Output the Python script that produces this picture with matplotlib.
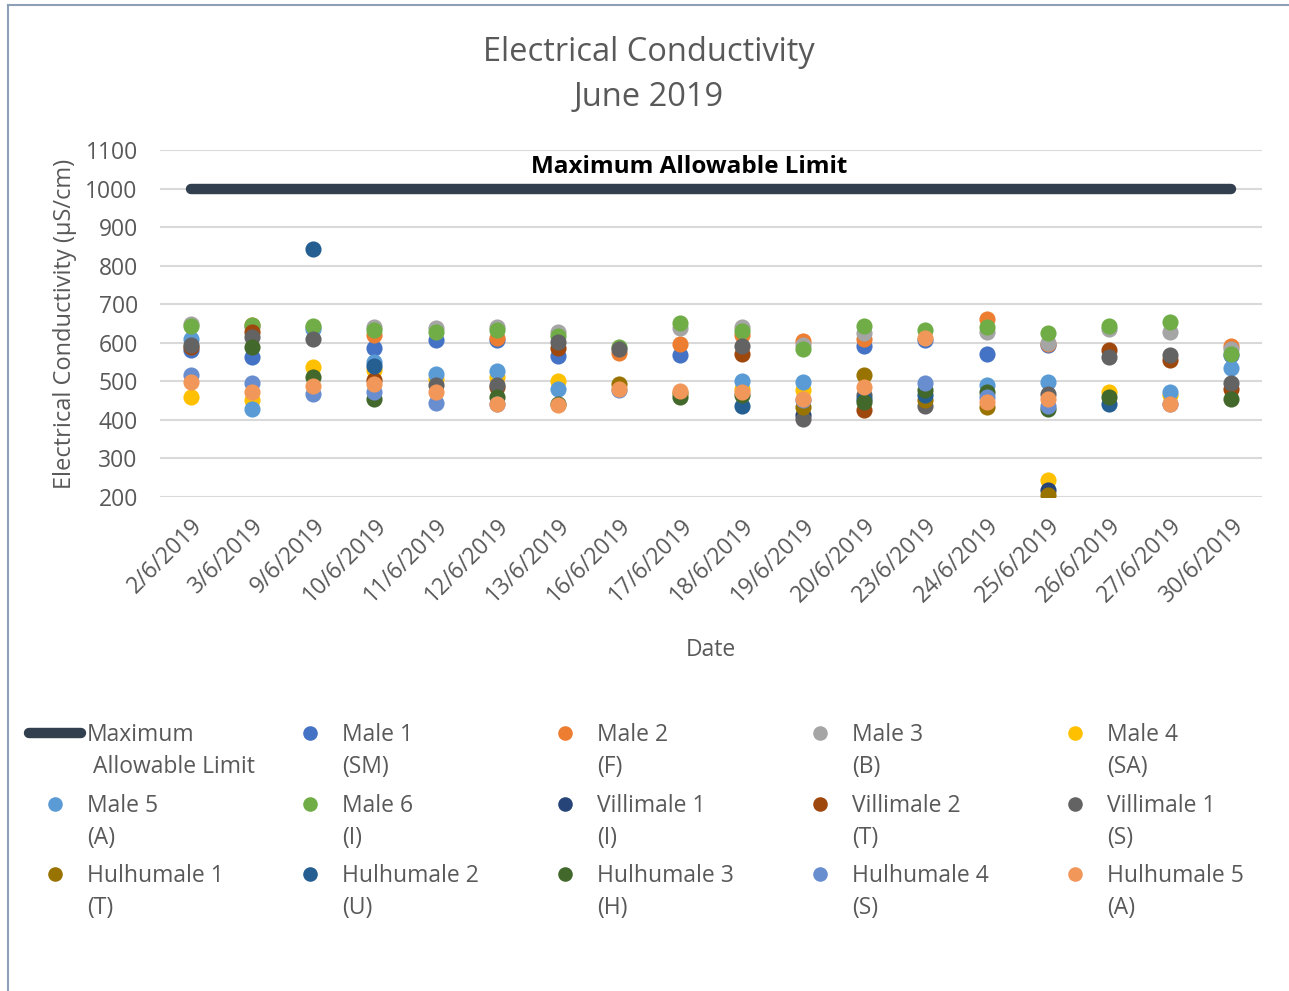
import numpy as np
import matplotlib
matplotlib.use("Agg")
import matplotlib.pyplot as plt
from matplotlib.lines import Line2D

plt.rcParams['font.family'] = ['Open Sans', 'DejaVu Sans']

nan = np.nan

dates = ['2/6/2019', '3/6/2019', '9/6/2019', '10/6/2019', '11/6/2019',
         '12/6/2019', '13/6/2019', '16/6/2019', '17/6/2019', '18/6/2019',
         '19/6/2019', '20/6/2019', '23/6/2019', '24/6/2019', '25/6/2019',
         '26/6/2019', '27/6/2019', '30/6/2019']

max_limit = [1000] * 18

male_1 = [580, 564, nan, 587, 607, 607, 566, nan, 568, nan, nan, 592, 608, 570, 593, nan, nan, 568]
male_2 = [nan, 645, nan, 620, nan, 613, nan, 573, 597, 620, 605, 610, nan, 661, 596, nan, nan, 592]
male_3 = [650, 640, 640, 642, 638, 642, 629, nan, 638, 640, 595, 625, nan, 629, 600, 637, 629, 583]
male_4 = [460, 451, 538, 530, 507, 512, 500, nan, nan, 481, 477, nan, nan, nan, 243, 473, 465, nan]
male_5 = [610, 427, 637, 551, 520, 527, 480, nan, nan, 500, 499, nan, nan, 490, 497, nan, 473, 535]
male_6 = [643, 646, 644, 633, 627, 633, 618, 590, 652, 631, 585, 644, 633, 640, 625, 644, 655, 571]
villimale_1i = [nan, nan, nan, nan, nan, nan, nan, nan, nan, nan, 412, nan, nan, nan, 219, nan, nan, nan]
villimale_2 = [588, 629, nan, 503, nan, 485, 587, nan, nan, 572, nan, 425, nan, nan, nan, 581, 555, 481]
villimale_1s = [595, 616, 610, nan, 490, 490, 603, 584, nan, 592, 403, 464, 435, nan, 466, 562, 568, 496]
hulhumale_1 = [nan, nan, nan, nan, nan, nan, nan, 494, 470, nan, 434, 516, 451, 434, 204, nan, nan, nan]
hulhumale_2 = [nan, nan, 843, 540, nan, nan, nan, nan, nan, 435, nan, 455, 464, nan, nan, 440, nan, nan]
hulhumale_3 = [nan, 588, 510, 455, nan, 460, 440, nan, 460, 464, nan, 447, 477, 473, 429, 460, nan, 455]
hulhumale_4 = [516, 496, 468, 473, 445, 440, nan, 478, nan, nan, 451, nan, 496, 460, 435, nan, 440, nan]
hulhumale_5 = [497, 473, 487, 492, 473, 441, 438, 481, 475, 473, 454, 486, 612, 447, 455, nan, 441, nan]

series = [
    ("Male 1\n(SM)", male_1, '#4472C4'),
    ("Male 2\n(F)", male_2, '#ED7D31'),
    ("Male 3\n(B)", male_3, '#A5A5A5'),
    ("Male 4\n(SA)", male_4, '#FFC000'),
    ("Male 5\n(A)", male_5, '#5B9BD5'),
    ("Male 6\n(I)", male_6, '#70AD47'),
    ("Villimale 1\n(I)", villimale_1i, '#264478'),
    ("Villimale 2\n(T)", villimale_2, '#9E480E'),
    ("Villimale 1\n(S)", villimale_1s, '#636363'),
    ("Hulhumale 1\n(T)", hulhumale_1, '#997300'),
    ("Hulhumale 2\n(U)", hulhumale_2, '#255E91'),
    ("Hulhumale 3\n(H)", hulhumale_3, '#43682B'),
    ("Hulhumale 4\n(S)", hulhumale_4, '#698ED0'),
    ("Hulhumale 5\n(A)", hulhumale_5, '#F1975A'),
]

W, H = 1289, 991
TXT = '#595959'
LIMIT_COLOR = '#323F4F'
FS = 16.5


def fx(x):
    return x / W


def fy(y):
    return 1 - y / H


fig = plt.figure(figsize=(W / 100, H / 100), dpi=100)
ax = fig.add_axes([fx(160), fy(497), fx(1262 - 160), (497 - 150) / H])

x = np.arange(len(dates))
ax.plot(x, max_limit, color=LIMIT_COLOR, lw=7.5, solid_capstyle='round', zorder=2)
for name, vals, col in series:
    ax.scatter(x, vals, s=135, color=col, zorder=3, linewidths=0)

ax.text(8.15, 1056, "Maximum Allowable Limit", ha='center', va='center',
        fontsize=17.5, fontweight='bold', color='black')

ax.set_xlim(-0.5, len(dates) - 0.5)
ax.set_ylim(200, 1100)
ax.set_yticks(np.arange(200, 1101, 100))
ax.set_xticks(x)
ax.set_xticklabels(dates, rotation=45, ha='right', rotation_mode='anchor')
ax.tick_params(length=0, labelsize=FS, labelcolor=TXT)
ax.tick_params(axis='y', pad=16)
ax.tick_params(axis='x', pad=12)
for s in ax.spines.values():
    s.set_visible(False)
ax.grid(axis='y', color='#D9D9D9', lw=1.5)
ax.set_axisbelow(True)
ax.set_ylabel("Electrical Conductivity (µS/cm)", fontsize=17, color=TXT, labelpad=6)
ax.set_xlabel("Date", fontsize=FS, color=TXT, labelpad=22)

fig.text(fx(649), fy(75), "Electrical Conductivity\nJune 2019", ha='center', va='center',
         fontsize=23.5, color=TXT, linespacing=1.5)

# legend drawn by hand, 5 columns x 3 rows
entries = [("Maximum\n Allowable Limit", None)] + [(n, c) for n, _, c in series]
for i, (label, col) in enumerate(entries):
    r, c = divmod(i, 5)
    mx = 55 + 255 * c
    my = 733 + 70.5 * r
    if col is None:
        fig.add_artist(Line2D([fx(29), fx(81)], [fy(my), fy(my)], color=LIMIT_COLOR,
                              lw=7.5, solid_capstyle='round', transform=fig.transFigure))
    else:
        fig.add_artist(Line2D([fx(mx)], [fy(my)], marker='o', markersize=10.5, color=col,
                              markeredgewidth=0, transform=fig.transFigure))
    fig.text(fx(mx + 32), fy(my - 10), label, ha='left', va='top', fontsize=FS,
             color=TXT, linespacing=1.45)

# chart border (left and top edges visible)
fig.add_artist(Line2D([fx(8), fx(8)], [0, fy(5)], color='#8EA0B8', lw=1.5,
                      transform=fig.transFigure))
fig.add_artist(Line2D([fx(8), 1], [fy(5), fy(5)], color='#8EA0B8', lw=1.5,
                      transform=fig.transFigure))

fig.savefig("out.png", dpi=100)
